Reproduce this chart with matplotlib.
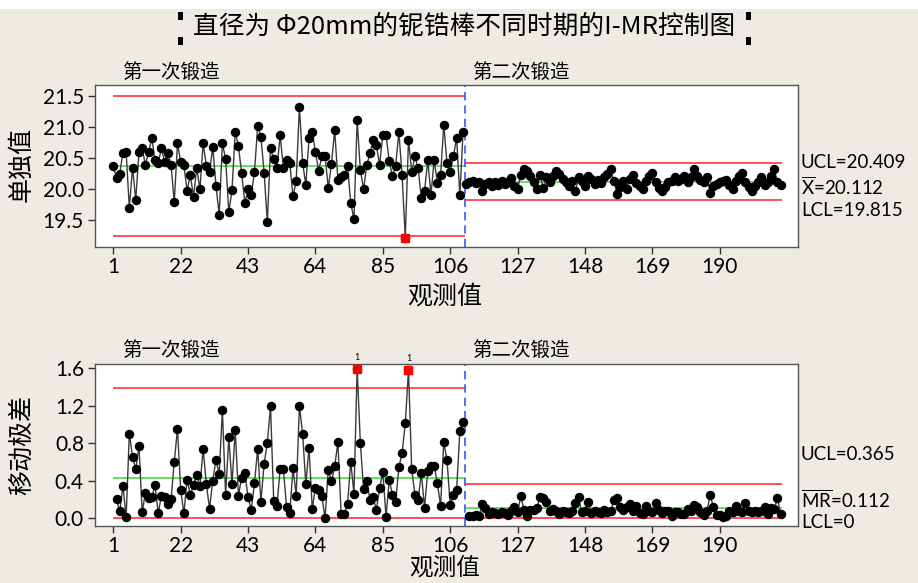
import numpy as np
import matplotlib
matplotlib.use("Agg")
import matplotlib.pyplot as plt
from matplotlib.patches import Rectangle

# ---------------- data ----------------
stage1 = [20.37, 20.17, 20.24, 20.58, 20.59, 19.69, 20.34, 19.82, 20.59, 20.65,
          20.38, 20.59, 20.81, 20.46, 20.41, 20.65, 20.43, 20.58, 20.38, 19.78,
          20.73, 20.43, 20.38, 19.97, 20.22, 19.87, 20.33, 19.99, 20.73, 20.37,
          20.27, 20.67, 20.05, 19.58, 20.73, 20.48, 19.62, 19.98, 20.92, 20.68,
          20.25, 19.77, 19.99, 19.90, 20.27, 21.01, 20.84, 20.26, 19.46, 20.65,
          20.47, 20.34, 20.86, 20.34, 20.46, 20.41, 19.88, 20.12, 21.32, 20.42,
          20.06, 20.81, 20.91, 20.59, 20.29, 20.52, 20.52, 20.01, 20.40, 20.95,
          20.14, 20.18, 20.22, 20.37, 19.77, 19.51, 21.10, 20.30, 19.99, 20.38,
          20.57, 20.79, 20.70, 20.38, 20.87, 20.86, 20.45, 20.20, 20.37, 20.91,
          20.22, 19.21, 20.79, 20.27, 20.52, 20.33, 19.85, 19.96, 20.46, 19.90,
          20.46, 20.09, 20.22, 21.03, 20.41, 20.27, 20.52, 20.82, 19.89, 20.91]

stage2 = [20.08, 20.10, 20.12, 20.09, 20.11, 19.96, 20.07, 20.11, 20.05, 20.10,
          20.06, 20.12, 20.07, 20.10, 20.17, 20.05, 19.99, 20.22, 20.31, 20.29,
          20.20, 20.11, 20.00, 20.22, 20.01, 20.18, 20.10, 20.20, 20.28, 20.24,
          20.16, 20.10, 20.05, 20.12, 19.96, 20.18, 20.12, 20.04, 20.21, 20.16,
          20.08, 20.14, 20.09, 20.18, 20.24, 20.31, 20.12, 19.91, 20.03, 20.12,
          20.00, 20.15, 20.22, 20.09, 20.04, 20.00, 20.13, 20.20, 20.26, 20.10,
          20.01, 19.96, 20.03, 20.10, 20.12, 20.18, 20.12, 20.16, 20.20, 20.10,
          20.18, 20.32, 20.20, 20.14, 20.11, 20.18, 19.93, 20.05, 20.08, 20.11,
          20.12, 20.14, 20.06, 20.00, 20.13, 20.20, 20.26, 20.10, 20.03, 19.97,
          20.05, 20.11, 20.18, 20.06, 20.10, 20.21, 20.31, 20.10, 20.06]

stage_names = ["第一次锻造", "第二次锻造"]
center = [20.365, 20.112]
mr_bar = [0.425, 0.112]
x_ticks = [1, 22, 43, 64, 85, 106, 127, 148, 169, 190]
i_ticks = [19.5, 20.0, 20.5, 21.0, 21.5]
mr_ticks = [0.0, 0.4, 0.8, 1.2, 1.6]
i_labels = ["UCL=20.409", r"$\overline{\mathrm{X}}$=20.112", "LCL=19.815"]
mr_labels = ["UCL=0.365", r"$\overline{\mathrm{MR}}$=0.112", "LCL=0"]
title = "直径为 Φ20mm的铌锆棒不同时期的I-MR控制图"
xlabel = "观测值"
ylabel_i = "单独值"
ylabel_mr = "移动极差"

# ---------------- style ----------------
plt.rcParams['font.family'] = ['Lato', 'Noto Sans CJK SC', 'DejaVu Sans']
plt.rcParams['mathtext.fontset'] = 'custom'
plt.rcParams['mathtext.rm'] = 'Lato'
plt.rcParams['mathtext.it'] = 'Lato'
CJK = ['Noto Sans CJK SC', 'DejaVu Sans']
BG = '#EEEBE4'
RED = '#FF3333'
GREEN = '#33DD33'
LINE = '#3a3a3a'

fig = plt.figure(figsize=(9.18, 5.83), dpi=100, facecolor=BG)
fig.patches.append(Rectangle((0, 1 - 9 / 583), 1, 9 / 583, transform=fig.transFigure,
                             facecolor='white', edgecolor='none', zorder=0))

ax1 = fig.add_axes([0.1035, 0.5763, 0.7658, 0.2779])
ax2 = fig.add_axes([0.1035, 0.0978, 0.7658, 0.2779])

n1, n2 = len(stage1), len(stage2)
x1 = np.arange(1, n1 + 1)
x2 = np.arange(n1 + 1, n1 + n2 + 1)
boundary = n1 + 0.5
spans = [(1, boundary), (boundary, n1 + n2 + 0.3)]
xs = [x1, x2]
ys = [np.array(stage1), np.array(stage2)]

for k in range(2):
    a, b = spans[k]
    c = center[k]
    half = 2.66 * mr_bar[k]
    ucl, lcl = c + half, c - half
    ax1.hlines([ucl, lcl], a, b, colors=RED, lw=1.2, zorder=1)
    ax1.hlines([c], a, b, colors=GREEN, lw=1.1, zorder=1)
    ax1.plot(xs[k], ys[k], color=LINE, lw=1.0, zorder=2)
    ax1.plot(xs[k], ys[k], 'o', ms=5.8, mfc='black', mec='black', zorder=3)
    bad = (ys[k] > ucl) | (ys[k] < lcl)
    ax1.plot(xs[k][bad], ys[k][bad], 's', ms=6, mfc='#FF0000', mec='#FF0000', zorder=4)

    mr = np.abs(np.diff(ys[k]))
    xm = xs[k][1:]
    mucl = 3.267 * mr_bar[k]
    ax2.hlines([mucl, 0.0], a, b, colors=RED, lw=1.2, zorder=1)
    ax2.hlines([mr_bar[k]], a, b, colors=GREEN, lw=1.1, zorder=1)
    ax2.plot(xm, mr, color=LINE, lw=1.0, zorder=2)
    ax2.plot(xm, mr, 'o', ms=5.8, mfc='black', mec='black', zorder=3)
    badm = mr > mucl
    ax2.plot(xm[badm], mr[badm], 's', ms=6, mfc='#FF0000', mec='#FF0000', zorder=4)
    for xx, yy in zip(xm[badm], mr[badm]):
        ax2.text(xx, yy + 0.07, "1", fontsize=6.5, ha='center', va='bottom', color='black')

for ax in (ax1, ax2):
    ax.axvline(boundary, color='#3355FF', lw=1.2, ls=(0, (5, 3)), zorder=1)
    ax.set_xlim(-4.7, 214.4)
    ax.set_xticks(x_ticks)
    ax.set_xticklabels([str(t) for t in x_ticks])
    ax.set_facecolor('white')
    for s in ax.spines.values():
        s.set_color('#555555')
        s.set_linewidth(1.0)
    ax.tick_params(direction='out', length=5, width=1, colors='#333333',
                   labelsize=15, labelcolor='black', pad=3)
    ax.tick_params(axis='x', pad=2)

ax1.set_ylim(19.06, 21.67)
ax1.set_yticks(i_ticks)
ax1.set_yticklabels([f"{t:.1f}" for t in i_ticks])
ax2.set_ylim(-0.085, 1.643)
ax2.set_yticks(mr_ticks)
ax2.set_yticklabels([f"{t:.1f}" for t in mr_ticks])

# titles and labels
fig.text(0.5054, 0.9537, title, fontsize=18.5, family=CJK, ha='center', va='center')
for yy in (0.8765, 0.3997):
    fig.text(0.1329, yy, stage_names[0], fontsize=14, family=CJK, ha='left', va='center')
    fig.text(0.5142, yy, stage_names[1], fontsize=14, family=CJK, ha='left', va='center')
fig.text(0.4847, 0.4906, xlabel, fontsize=18, family=CJK, ha='center', va='center')
fig.text(0.4847, 0.024, xlabel, fontsize=17, family=CJK, ha='center', va='center')
fig.text(0.024, 1 - 165 / 583, ylabel_i, fontsize=18, family=CJK, ha='center', va='center', rotation=90)
fig.text(0.024, 1 - 445 / 583, ylabel_mr, fontsize=18, family=CJK, ha='center', va='center', rotation=90)

# right-side limit labels
rx = 801 / 918
for lab, ypx in zip(i_labels, [163, 187, 210]):
    fig.text(rx, 1 - ypx / 583, lab, fontsize=13.5, ha='left', va='center')
for lab, ypx in zip(mr_labels, [455, 500, 522]):
    fig.text(rx, 1 - ypx / 583, lab, fontsize=13.5, ha='left', va='center')

# title selection handles
for hx in (178, 746):
    for hy in (12, 37):
        fig.patches.append(Rectangle((hx / 918, 1 - (hy + 8) / 583), 5 / 918, 8 / 583,
                                     transform=fig.transFigure, facecolor='black',
                                     edgecolor='none', zorder=5))

fig.savefig("out.png", dpi=100, facecolor=fig.get_facecolor())
